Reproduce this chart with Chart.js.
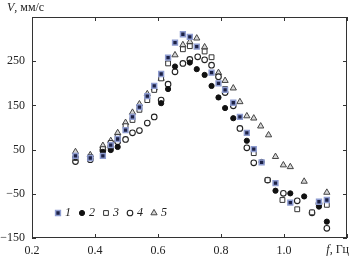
<!DOCTYPE html>
<html>
<head>
<meta charset="utf-8">
<script src="https://cdn.jsdelivr.net/npm/chart.js@4.4.1/dist/chart.umd.min.js"></script>
<style>
    html, body { margin: 0; padding: 0; background: #fff; }
    #wrap { width: 353px; height: 257px; position: relative; }
</style>
</head>
<body>
<div id="wrap"><canvas id="chart"></canvas></div>
<script>
// Data (f in Hz, V in mm/s)
const f1 = [0.338, 0.385, 0.425, 0.450, 0.472, 0.497, 0.519, 0.541, 0.566, 0.588, 0.610, 0.632, 0.654, 0.679, 0.701, 0.723, 0.770, 0.792, 0.813, 0.839, 0.860, 0.882, 0.904, 0.929, 0.973, 1.020, 1.111, 1.136];
const v1 = [36, 31, 36, 60, 74, 94, 124, 146, 171, 194, 221, 258, 292, 311, 305, 283, 224, 200, 185, 156, 124, 88, 51, 21, -26, -70, -68, -64];

const f2 = [0.338, 0.385, 0.425, 0.450, 0.472, 0.610, 0.632, 0.654, 0.701, 0.723, 0.748, 0.770, 0.792, 0.813, 0.839, 0.882, 0.929, 0.973, 1.020, 1.064, 1.111, 1.136];
const v2 = [33, 31, 45, 49, 56, 155, 187, 238, 247, 232, 219, 194, 168, 144, 121, 70, 22, -43, -49, -56, -79, -113];

const f3 = [0.338, 0.385, 0.425, 0.450, 0.472, 0.497, 0.519, 0.541, 0.566, 0.588, 0.610, 0.632, 0.679, 0.701, 0.748, 0.770, 0.813, 0.904, 0.948, 0.995, 1.042, 1.089, 1.111, 1.136];
const v3 = [31, 33, 51, 65, 79, 103, 117, 140, 162, 185, 211, 245, 277, 284, 272, 259, 187, 42, -19, -64, -85, -92, -70, -75];

const f4 = [0.338, 0.385, 0.425, 0.450, 0.472, 0.497, 0.519, 0.541, 0.566, 0.588, 0.610, 0.632, 0.654, 0.679, 0.701, 0.726, 0.748, 0.770, 0.792, 0.813, 0.839, 0.860, 0.882, 0.904, 0.948, 0.998, 1.042, 1.089, 1.111, 1.136];
const v4 = [23, 27, 49, 56, 68, 73, 88, 93, 110, 124, 162, 198, 226, 245, 254, 260, 253, 241, 215, 179, 149, 98, 54, 20, -19, -49, -66, -93, -72, -128];

const f5 = [0.338, 0.385, 0.425, 0.450, 0.472, 0.497, 0.519, 0.541, 0.566, 0.588, 0.610, 0.654, 0.679, 0.701, 0.723, 0.748, 0.792, 0.813, 0.839, 0.860, 0.882, 0.904, 0.926, 0.951, 0.973, 0.998, 1.020, 1.064, 1.136];
const v5 = [45, 38, 59, 70, 88, 111, 134, 153, 176, 189, 211, 264, 287, 294, 302, 282, 224, 206, 189, 158, 126, 121, 103, 83, 34, 15, 11, -22, -47];

const seriesNames = ['1', '2', '3', '4', '5'];
const xTicks = [0.2, 0.4, 0.6, 0.8, 1.0, 1.2];
const yTicks = [-150, -50, 50, 150, 250, 350];

const SERIF = '"Liberation Serif", "DejaVu Serif", serif';

const styles = [
    { pointStyle: 'rect', radius: 3.4, bg: '#1c2145', border: '#8e9cd0', bw: 1.5 },
    { pointStyle: 'circle', radius: 2.6, bg: '#111', border: '#111', bw: 1 },
    { pointStyle: 'rect', radius: 3.4, bg: '#fff', border: '#333', bw: 1 },
    { pointStyle: 'circle', radius: 2.8, bg: '#fff', border: '#222', bw: 1.1 },
    { pointStyle: 'triangle', radius: 3.6, bg: '#d6d6d6', border: '#444', bw: 1 }
];

function toPoints(xs, ys) {
    return xs.map((x, i) => ({ x: x, y: ys[i] }));
}

const allSeries = [[f1, v1], [f2, v2], [f3, v3], [f4, v4], [f5, v5]];

const datasets = allSeries.map(([xs, ys], i) => ({
    label: seriesNames[i],
    data: toPoints(xs, ys),
    pointStyle: styles[i].pointStyle,
    pointRadius: styles[i].radius,
    backgroundColor: styles[i].bg,
    borderColor: styles[i].border,
    borderWidth: styles[i].bw,
    showLine: false
}));

function fmtMinus(v) {
    return String(v).replace('-', '\u2212');
}

// frame, inward ticks, legend and axis captions
const decorPlugin = {
    id: 'decor',
    afterDraw(chart) {
        const ctx = chart.ctx;
        const a = chart.chartArea;
        const xs = chart.scales.x;
        const ys = chart.scales.y;
        ctx.save();
        ctx.strokeStyle = '#333';
        ctx.lineWidth = 1;
        ctx.strokeRect(Math.round(a.left) + 0.5, Math.round(a.top) + 0.5,
            Math.round(a.right - a.left) - 1, Math.round(a.bottom - a.top) - 1);

        const tl = 4;
        ctx.beginPath();
        xTicks.forEach(t => {
            const px = Math.round(xs.getPixelForValue(t)) + 0.5;
            ctx.moveTo(px, a.bottom); ctx.lineTo(px, a.bottom - tl);
            ctx.moveTo(px, a.top); ctx.lineTo(px, a.top + tl);
        });
        yTicks.forEach(t => {
            const py = Math.round(ys.getPixelForValue(t)) + 0.5;
            ctx.moveTo(a.left, py); ctx.lineTo(a.left + tl, py);
            ctx.moveTo(a.right, py); ctx.lineTo(a.right - tl, py);
        });
        ctx.stroke();

        // y caption
        ctx.fillStyle = '#222';
        ctx.textBaseline = 'middle';
        ctx.textAlign = 'left';
        ctx.font = 'italic 12px ' + SERIF;
        ctx.fillText('V', 7, 8);
        const vw = ctx.measureText('V').width;
        ctx.font = '12px ' + SERIF;
        ctx.fillText(', мм/с', 7 + vw, 8);

        // x caption in place of the last tick label
        ctx.font = '12px ' + SERIF;
        const tail = ', Гц';
        const tw = ctx.measureText(tail).width;
        const xr = chart.width - 4;
        ctx.fillText(tail, xr - tw, 250);
        ctx.font = 'italic 12px ' + SERIF;
        ctx.textAlign = 'right';
        ctx.fillText('f', xr - tw, 250);

        // legend
        const ly = a.top + 196;
        let lx = a.left + 26;
        ctx.textAlign = 'left';
        styles.forEach((s, i) => {
            ctx.fillStyle = s.bg;
            ctx.strokeStyle = s.border;
            ctx.lineWidth = s.bw;
            Chart.helpers.drawPoint(ctx, { pointStyle: s.pointStyle, radius: s.radius, borderWidth: s.bw, rotation: 0 }, lx, ly);
            ctx.fillStyle = '#222';
            ctx.font = 'italic 12px ' + SERIF;
            ctx.fillText(seriesNames[i], lx + 7, ly);
            lx += 24;
        });
        ctx.restore();
    }
};

const ctx = document.getElementById('chart').getContext('2d');
const chart = new Chart(ctx, {
    type: 'scatter',
    data: { datasets: datasets },
    options: {
        responsive: true,
        maintainAspectRatio: false,
        animation: false,
        events: [],
        layout: { padding: { top: 17, right: 2, left: 0, bottom: 0 } },
        plugins: {
            legend: { display: false },
            tooltip: { enabled: false }
        },
        scales: {
            x: {
                type: 'linear',
                min: 0.2,
                max: 1.2,
                afterBuildTicks: (scale) => { scale.ticks = xTicks.map(v => ({ value: v })); },
                afterFit: (scale) => { scale.height = 19; },
                grid: { display: false, drawTicks: false },
                border: { display: false },
                ticks: {
                    padding: 6,
                    maxRotation: 0,
                    color: '#222',
                    font: { family: SERIF, size: 12 },
                    callback: (v) => v >= 1.19 ? '' : v.toFixed(1)
                }
            },
            y: {
                min: -150,
                max: 350,
                afterBuildTicks: (scale) => { scale.ticks = yTicks.map(v => ({ value: v })); },
                afterFit: (scale) => { scale.width = 32; },
                grid: { display: false, drawTicks: false },
                border: { display: false },
                ticks: {
                    padding: 7,
                    color: '#222',
                    font: { family: SERIF, size: 12 },
                    callback: (v) => v >= 349 ? '' : fmtMinus(v)
                }
            }
        }
    },
    plugins: [decorPlugin]
});
</script>
</body>
</html>
